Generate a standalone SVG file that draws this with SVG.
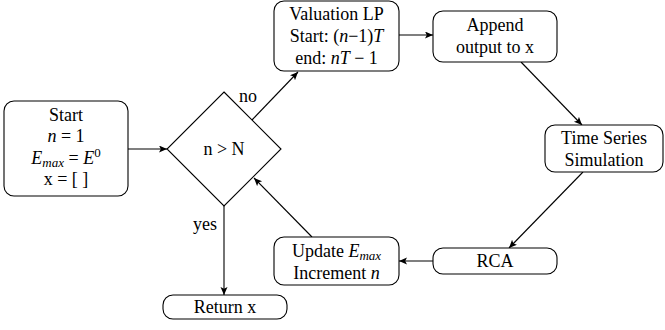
<svg xmlns="http://www.w3.org/2000/svg" width="665" height="330" viewBox="0 0 665 330">
<defs>
<marker id="arr" markerWidth="9" markerHeight="8" refX="8" refY="3.5" orient="auto" markerUnits="userSpaceOnUse">
<path d="M0,0 L8,3.5 L0,7 L1.8,3.5 Z" fill="#000"/>
</marker>
</defs>
<style>
.box{fill:#fff;stroke:#000;stroke-width:1.1}
text{font-family:"Liberation Serif","Times New Roman",serif;font-size:18px;fill:#000;text-anchor:middle}
.i{font-style:italic}
.s{font-size:13px}
.c{stroke:#000;stroke-width:1.1;fill:none;marker-end:url(#arr)}
</style>
<g id="connectors">
<line class="c" x1="128" y1="149" x2="167" y2="149"/>
<line class="c" x1="252" y1="120" x2="298" y2="72"/>
<line class="c" x1="399" y1="35" x2="433" y2="35"/>
<line class="c" x1="521" y1="62" x2="582" y2="125"/>
<line class="c" x1="583" y1="172" x2="509" y2="248"/>
<line class="c" x1="433" y1="261" x2="399" y2="261"/>
<line class="c" x1="312" y1="237" x2="254" y2="178"/>
<line class="c" x1="224" y1="206" x2="224" y2="295"/>
<text x="248" y="102">no</text>
<text x="205" y="230">yes</text>
</g>
<g id="start">
<rect class="box" x="4" y="101" width="124" height="95" rx="10"/>
<text x="66" y="121">Start</text>
<text x="66" y="142"><tspan class="i">n</tspan> = 1</text>
<text x="66" y="164"><tspan class="i">E</tspan><tspan class="i s" dy="3">max</tspan><tspan dy="-3"> = </tspan><tspan class="i">E</tspan><tspan class="s" dy="-7">0</tspan></text>
<text x="66" y="185">x = [ ]</text>
</g>
<g id="decision">
<polygon class="box" points="224,92 281,149 224,206 167,149"/>
<text x="224" y="155">n  &gt;  N</text>
</g>
<g id="valuation">
<rect class="box" x="274" y="1" width="125" height="70" rx="10"/>
<text x="336.5" y="20">Valuation LP</text>
<text x="336.5" y="42">Start: (<tspan class="i">n</tspan>−1)<tspan class="i">T</tspan></text>
<text x="336.5" y="64">end: <tspan class="i">nT</tspan> − 1</text>
</g>
<g id="append">
<rect class="box" x="433" y="11" width="124" height="51" rx="10"/>
<text x="495" y="31">Append</text>
<text x="495" y="53">output to x</text>
</g>
<g id="timeseries">
<rect class="box" x="545" y="125" width="118" height="47" rx="10"/>
<text x="604" y="144">Time Series</text>
<text x="604" y="166">Simulation</text>
</g>
<g id="rca">
<rect class="box" x="433" y="248" width="124" height="26" rx="10"/>
<text x="495" y="267">RCA</text>
</g>
<g id="update">
<rect class="box" x="274" y="237" width="125" height="48" rx="10"/>
<text x="336.5" y="257">Update <tspan class="i">E</tspan><tspan class="i s" dy="3">max</tspan></text>
<text x="336.5" y="279">Increment <tspan class="i">n</tspan></text>
</g>
<g id="return">
<rect class="box" x="163" y="295" width="124" height="24" rx="10"/>
<text x="225" y="313">Return x</text>
</g>
</svg>
